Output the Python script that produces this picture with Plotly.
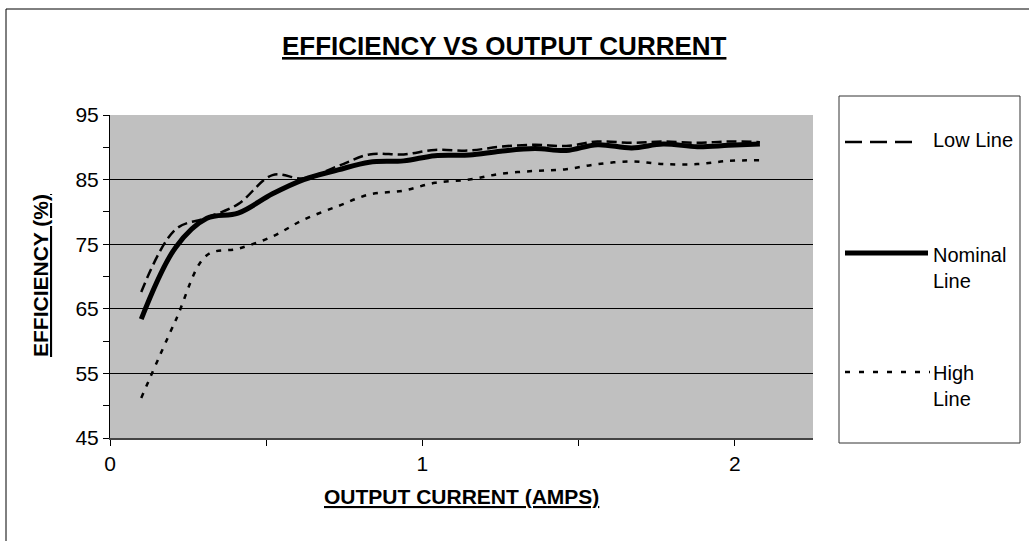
import plotly.graph_objects as go

# ---- data ----
current_amps = [0.10, 0.21, 0.31, 0.41, 0.52, 0.62, 0.73, 0.83, 0.94, 1.04,
                1.15, 1.25, 1.36, 1.46, 1.56, 1.67, 1.77, 1.88, 1.98, 2.08]
eff_low_line = [67.6, 77.3, 79.1, 81.2, 85.7, 85.2, 87.1, 88.9, 88.9, 89.6,
                89.5, 90.1, 90.4, 90.2, 90.9, 90.7, 90.9, 90.7, 90.9, 90.8]
eff_nominal_line = [63.4, 74.5, 79.0, 79.8, 82.8, 85.0, 86.5, 87.7, 87.9, 88.7,
                    88.8, 89.4, 89.8, 89.5, 90.4, 89.9, 90.5, 90.1, 90.3, 90.5]
eff_high_line = [51.2, 63.2, 73.3, 74.3, 76.2, 78.8, 80.9, 82.7, 83.3, 84.5,
                 85.0, 85.9, 86.35, 86.6, 87.4, 87.8, 87.4, 87.4, 87.9, 88.0]

x_tick_vals = [0, 0.5, 1, 1.5, 2]
x_tick_text = ["0", "", "1", "", "2"]
y_tick_vals = [45, 55, 65, 75, 85, 95]

series_names = ["Low Line", "Nominal Line", "High Line"]
legend_labels = ["Low Line", "Nominal<br>Line", "High<br>Line"]

FONT = "Arial, 'Liberation Sans', sans-serif"

W, H = 1029, 541
L, R, T, B = 110, 1029 - 813, 115, 541 - 438
PW, PH = W - L - R, H - T - B


def px_to_paper_x(px):
    return (px - L) / PW


def px_to_paper_y(py):
    return (H - B - py) / PH


fig = go.Figure()
fig.add_trace(go.Scatter(x=current_amps, y=eff_low_line, name=series_names[0],
                         mode="lines", line=dict(color="black", width=2.5, dash="10px,5px",
                                                 shape="spline", smoothing=1.0)))
fig.add_trace(go.Scatter(x=current_amps, y=eff_high_line, name=series_names[2],
                         mode="lines", line=dict(color="black", width=2.5, dash="5px,7px",
                                                 shape="spline", smoothing=1.0)))
fig.add_trace(go.Scatter(x=current_amps, y=eff_nominal_line, name=series_names[1],
                         mode="lines", line=dict(color="black", width=5,
                                                 shape="spline", smoothing=1.0)))

shapes = []
annotations = []

# outer chart border
shapes.append(dict(type="rect", xref="paper", yref="paper",
                   x0=px_to_paper_x(6), x1=px_to_paper_x(1045),
                   y0=px_to_paper_y(560), y1=px_to_paper_y(9),
                   line=dict(color="black", width=1), fillcolor="rgba(0,0,0,0)", layer="below"))

# legend box
shapes.append(dict(type="rect", xref="paper", yref="paper",
                   x0=px_to_paper_x(839), x1=px_to_paper_x(1020),
                   y0=px_to_paper_y(443), y1=px_to_paper_y(96),
                   line=dict(color="#333333", width=1), fillcolor="white"))

legend_specs = [
    (series_names[0], legend_labels[0], 142, 918, 2.5, "17px,8px", 140),
    (series_names[1], legend_labels[1], 253, 928, 5, "solid", 268),
    (series_names[2], legend_labels[2], 372, 930, 2.5, "5px,9px", 386),
]
for name, label, ly, lx1, lw, ld, ty in legend_specs:
    shapes.append(dict(type="line", xref="paper", yref="paper",
                       x0=px_to_paper_x(845), x1=px_to_paper_x(lx1),
                       y0=px_to_paper_y(ly), y1=px_to_paper_y(ly),
                       line=dict(color="black", width=lw, dash=ld)))
    annotations.append(dict(text=label, xref="paper", yref="paper",
                            x=px_to_paper_x(931), y=px_to_paper_y(ty),
                            xanchor="left", yanchor="middle", align="left",
                            showarrow=False, font=dict(family=FONT, size=20, color="black")))

# chart title
annotations.append(dict(text="<b><u>EFFICIENCY VS OUTPUT CURRENT</u></b>", xref="paper", yref="paper",
                        x=px_to_paper_x(505), y=px_to_paper_y(46), xanchor="center", yanchor="middle",
                        showarrow=False, font=dict(family=FONT, size=26, color="black")))
# axis titles
annotations.append(dict(text="<b><u>OUTPUT CURRENT (AMPS)</u></b>", xref="paper", yref="paper",
                        x=px_to_paper_x(461.5), y=px_to_paper_y(497), xanchor="center", yanchor="middle",
                        showarrow=False, font=dict(family=FONT, size=21, color="black")))
annotations.append(dict(text="<b><u>EFFICIENCY (%)</u></b>", xref="paper", yref="paper",
                        x=px_to_paper_x(40), y=px_to_paper_y(276), xanchor="center", yanchor="middle",
                        textangle=-90, showarrow=False, font=dict(family=FONT, size=21, color="black")))

fig.update_layout(
    width=W, height=H,
    margin=dict(l=L, r=R, t=T, b=B, pad=0),
    paper_bgcolor="white",
    plot_bgcolor="#C0C0C0",
    showlegend=False,
    font=dict(family=FONT, size=21, color="black"),
    shapes=shapes,
    annotations=annotations,
)
fig.update_xaxes(range=[0, 2.25], tickvals=x_tick_vals, ticktext=x_tick_text,
                 ticks="outside", ticklen=6, tickcolor="black", tickwidth=1,
                 showline=True, linecolor="#444444", linewidth=2,
                 showgrid=False, zeroline=False,
                 tickfont=dict(family=FONT, size=21, color="black"))
fig.update_yaxes(range=[45, 95], tickvals=y_tick_vals,
                 ticks="outside", ticklen=6, tickcolor="black", tickwidth=1,
                 minor=dict(dtick=5, tick0=45, ticks="outside", ticklen=6, tickcolor="black", showgrid=False),
                 showline=True, linecolor="black", linewidth=1,
                 showgrid=True, gridcolor="black", gridwidth=1, zeroline=False,
                 tickfont=dict(family=FONT, size=21, color="black"))

fig.write_html("out.html", config={"displayModeBar": False},
               post_script="document.body.style.margin='0';")
